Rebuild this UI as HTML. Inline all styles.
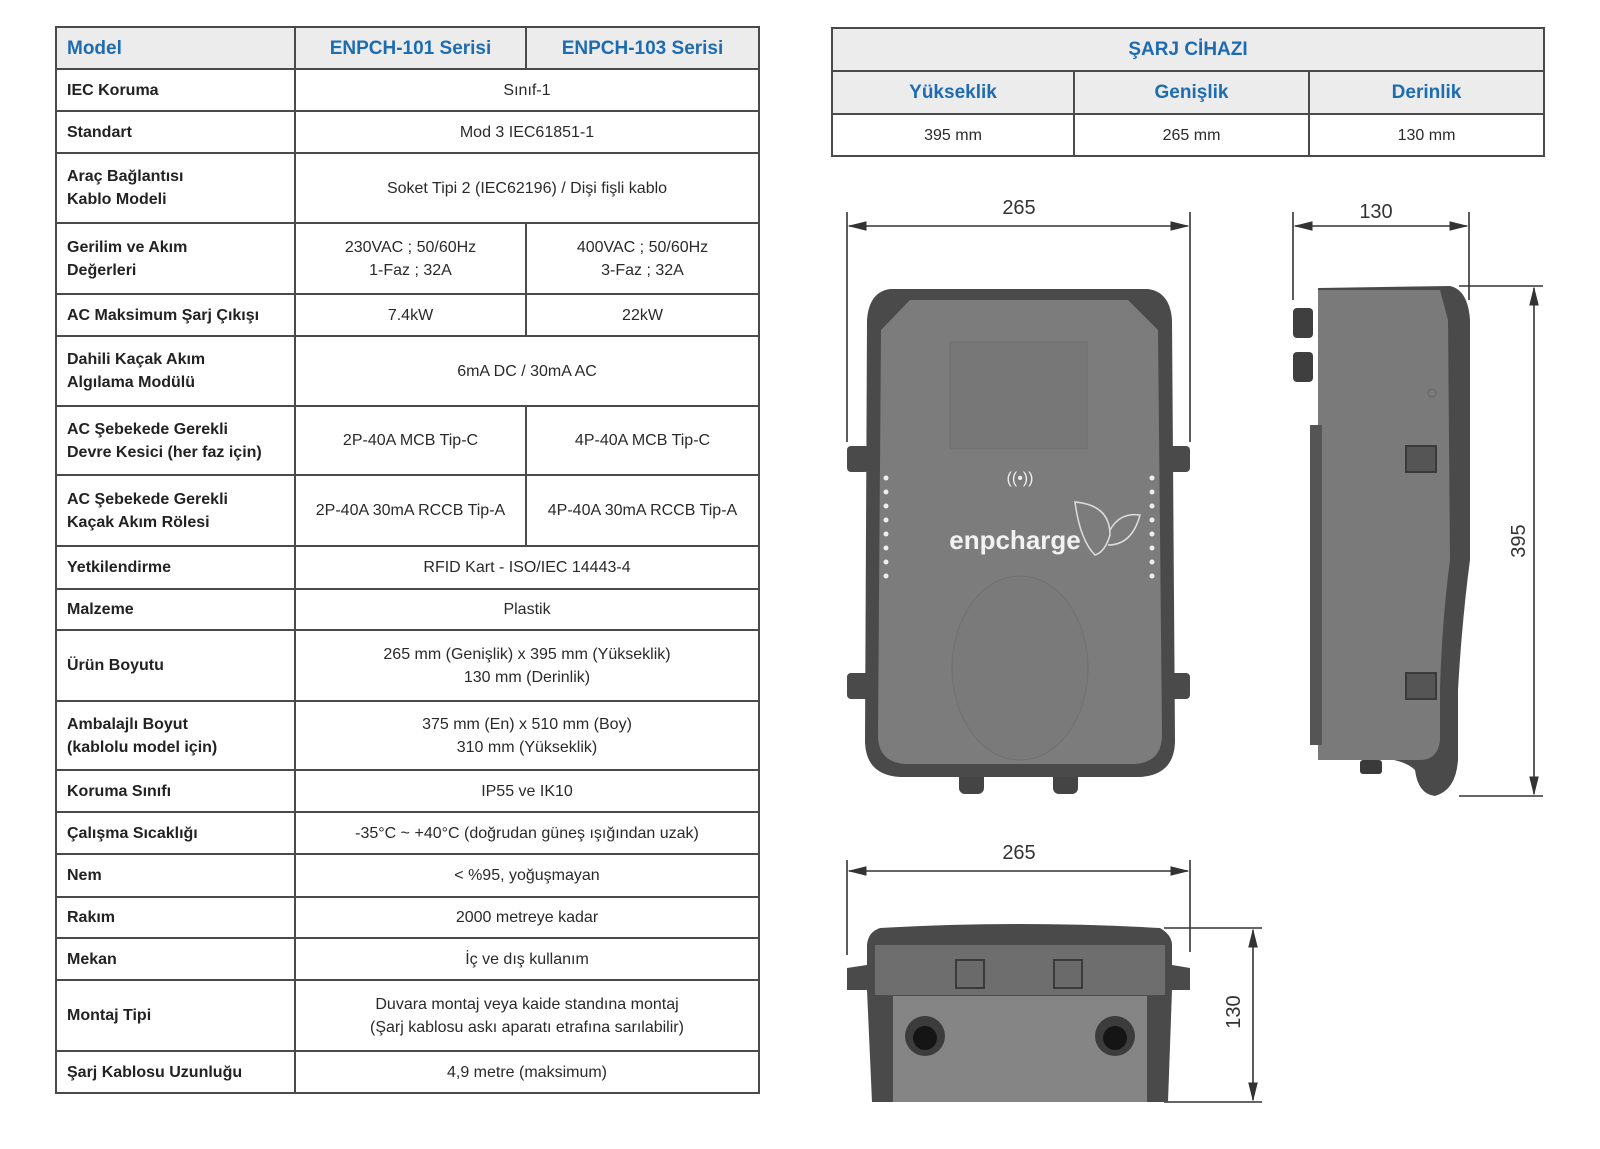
<!DOCTYPE html>
<html><head><meta charset="utf-8"><style>
body{margin:0;width:1600px;height:1149px;background:#fff;position:relative;overflow:hidden;font-family:"Liberation Sans",sans-serif;color:#2a2a2a}
table{border-collapse:collapse;position:absolute;table-layout:fixed}
td{border:2px solid #4a4a4a;padding:0;font-size:16px;text-align:center;line-height:23px}
td.l{text-align:left;padding-left:10px;font-weight:bold;color:#222}
.h td{background:#ececec;color:#1d6cb2;font-weight:bold;font-size:19px}
#t1{left:55px;top:26px;width:703px}
#t2{left:831px;top:27px;width:712px}
</style></head><body>
<table id="t1">
<colgroup><col style="width:239px"><col style="width:231px"><col style="width:233px"></colgroup>
<tr class="h" style="height:42px"><td class="l" style="color:#1d6cb2;font-size:19px">Model</td><td>ENPCH-101 Serisi</td><td>ENPCH-103 Serisi</td></tr>
<tr style="height:42px"><td class="l">IEC Koruma</td><td colspan="2">Sınıf-1</td></tr>
<tr style="height:42px"><td class="l">Standart</td><td colspan="2">Mod 3 IEC61851-1</td></tr>
<tr style="height:70px"><td class="l">Araç Bağlantısı<br>Kablo Modeli</td><td colspan="2">Soket Tipi 2 (IEC62196) / Dişi fişli kablo</td></tr>
<tr style="height:71px"><td class="l">Gerilim ve Akım<br>Değerleri</td><td>230VAC ; 50/60Hz<br>1-Faz ; 32A</td><td>400VAC ; 50/60Hz<br>3-Faz ; 32A</td></tr>
<tr style="height:42px"><td class="l">AC Maksimum Şarj Çıkışı</td><td>7.4kW</td><td>22kW</td></tr>
<tr style="height:70px"><td class="l">Dahili Kaçak Akım<br>Algılama Modülü</td><td colspan="2">6mA DC / 30mA AC</td></tr>
<tr style="height:69px"><td class="l">AC Şebekede Gerekli<br>Devre Kesici (her faz için)</td><td>2P-40A MCB Tip-C</td><td>4P-40A MCB Tip-C</td></tr>
<tr style="height:71px"><td class="l">AC Şebekede Gerekli<br>Kaçak Akım Rölesi</td><td>2P-40A 30mA RCCB Tip-A</td><td>4P-40A 30mA RCCB Tip-A</td></tr>
<tr style="height:43px"><td class="l">Yetkilendirme</td><td colspan="2">RFID Kart - ISO/IEC 14443-4</td></tr>
<tr style="height:41px"><td class="l">Malzeme</td><td colspan="2">Plastik</td></tr>
<tr style="height:71px"><td class="l">Ürün Boyutu</td><td colspan="2">265 mm (Genişlik) x 395 mm (Yükseklik)<br>130 mm (Derinlik)</td></tr>
<tr style="height:69px"><td class="l">Ambalajlı Boyut<br>(kablolu model için)</td><td colspan="2">375 mm (En) x 510 mm (Boy)<br>310 mm (Yükseklik)</td></tr>
<tr style="height:42px"><td class="l">Koruma Sınıfı</td><td colspan="2">IP55 ve IK10</td></tr>
<tr style="height:42px"><td class="l">Çalışma Sıcaklığı</td><td colspan="2">-35°C ~ +40°C (doğrudan güneş ışığından uzak)</td></tr>
<tr style="height:43px"><td class="l">Nem</td><td colspan="2">&lt; %95, yoğuşmayan</td></tr>
<tr style="height:41px"><td class="l">Rakım</td><td colspan="2">2000 metreye kadar</td></tr>
<tr style="height:42px"><td class="l">Mekan</td><td colspan="2">İç ve dış kullanım</td></tr>
<tr style="height:71px"><td class="l">Montaj Tipi</td><td colspan="2">Duvara montaj veya kaide standına montaj<br>(Şarj kablosu askı aparatı etrafına sarılabilir)</td></tr>
<tr style="height:42px"><td class="l">Şarj Kablosu Uzunluğu</td><td colspan="2">4,9 metre (maksimum)</td></tr>
</table>
<table id="t2">
<colgroup><col style="width:242px"><col style="width:235px"><col style="width:235px"></colgroup>
<tr class="h" style="height:43px"><td colspan="3">ŞARJ CİHAZI</td></tr>
<tr class="h" style="height:43px"><td>Yükseklik</td><td>Genişlik</td><td>Derinlik</td></tr>
<tr style="height:42px"><td>395 mm</td><td>265 mm</td><td>130 mm</td></tr>
</table>
<svg width="1600" height="1149" style="position:absolute;left:0;top:0" font-family="Liberation Sans,sans-serif">
<defs><marker id="a" markerWidth="12" markerHeight="8" refX="11" refY="4" orient="auto-start-reverse"><path d="M0,1 L12,4 L0,7z" fill="#333"/></marker></defs>
<g stroke="#333" stroke-width="1.6" fill="none">
<line x1="847" y1="212" x2="847" y2="442"/><line x1="1190" y1="212" x2="1190" y2="442"/>
<line x1="849" y1="226" x2="1188" y2="226" marker-start="url(#a)" marker-end="url(#a)"/>
<line x1="1293" y1="212" x2="1293" y2="300"/><line x1="1469" y1="212" x2="1469" y2="300"/>
<line x1="1295" y1="226" x2="1467" y2="226" marker-start="url(#a)" marker-end="url(#a)"/>
<line x1="1459" y1="286" x2="1543" y2="286"/><line x1="1459" y1="796" x2="1543" y2="796"/>
<line x1="1534" y1="288" x2="1534" y2="794" marker-start="url(#a)" marker-end="url(#a)"/>
<line x1="847" y1="860" x2="847" y2="955"/><line x1="1190" y1="860" x2="1190" y2="952"/>
<line x1="849" y1="871" x2="1188" y2="871" marker-start="url(#a)" marker-end="url(#a)"/>
<line x1="1164" y1="928" x2="1262" y2="928"/><line x1="1164" y1="1102" x2="1262" y2="1102"/>
<line x1="1253" y1="930" x2="1253" y2="1100" marker-start="url(#a)" marker-end="url(#a)"/>
</g>
<g fill="#333" font-size="20" text-anchor="middle">
<text x="1019" y="214">265</text><text x="1376" y="218">130</text>
<text x="1019" y="859">265</text>
<text transform="translate(1525,541) rotate(-90)">395</text>
<text transform="translate(1240,1012) rotate(-90)">130</text>
</g>
<!-- front -->
<rect x="847" y="446" width="22" height="26" rx="4" fill="#4a4a4a"/><rect x="1169" y="446" width="21" height="26" rx="4" fill="#4a4a4a"/>
<rect x="847" y="673" width="22" height="26" rx="4" fill="#4a4a4a"/><rect x="1169" y="673" width="21" height="26" rx="4" fill="#4a4a4a"/>
<rect x="959" y="770" width="25" height="24" rx="6" fill="#444"/><rect x="1053" y="770" width="25" height="24" rx="6" fill="#444"/>
<path d="M890,289 L1148,289 Q1170,292 1172,320 L1175,740 Q1175,775 1140,777 L900,777 Q865,775 865,740 L867,320 Q869,292 890,289z" fill="#4a4a4a"/>
<path d="M910,300 L1128,300 L1158,330 L1162,735 Q1162,762 1135,764 L905,764 Q878,762 878,735 L881,330z" fill="#7c7c7c"/>
<rect x="950" y="342" width="137" height="107" fill="#777" stroke="#6f6f6f"/>
<ellipse cx="1020" cy="668" rx="68" ry="92" fill="#7a7a7a" stroke="#707070"/>
<g fill="#eee"><circle cx="886" cy="478" r="2.5"/><circle cx="886" cy="492" r="2.5"/><circle cx="886" cy="506" r="2.5"/><circle cx="886" cy="520" r="2.5"/><circle cx="886" cy="534" r="2.5"/><circle cx="886" cy="548" r="2.5"/><circle cx="886" cy="562" r="2.5"/><circle cx="886" cy="576" r="2.5"/>
<circle cx="1152" cy="478" r="2.5"/><circle cx="1152" cy="492" r="2.5"/><circle cx="1152" cy="506" r="2.5"/><circle cx="1152" cy="520" r="2.5"/><circle cx="1152" cy="534" r="2.5"/><circle cx="1152" cy="548" r="2.5"/><circle cx="1152" cy="562" r="2.5"/><circle cx="1152" cy="576" r="2.5"/></g>
<text x="1020" y="483" fill="#eee" font-size="16" text-anchor="middle">((•))</text>
<text x="1015" y="549" fill="#f2f2f2" font-size="26" text-anchor="middle" font-weight="bold">enpcharge</text>
<path d="M1075,502 Q1110,505 1110,535 Q1105,552 1095,555 Q1080,540 1075,502z M1110,530 Q1120,512 1140,515 Q1132,545 1108,545" fill="none" stroke="#ddd" stroke-width="1.5"/>
<!-- side -->
<rect x="1293" y="308" width="20" height="30" rx="4" fill="#3f3f3f"/><rect x="1293" y="352" width="20" height="30" rx="4" fill="#3f3f3f"/>
<path d="M1318,288 L1450,286 Q1468,290 1470,320 L1470,560 Q1462,620 1458,690 L1458,760 Q1456,790 1435,796 Q1418,794 1415,770 Q1405,760 1380,758 L1318,758z" fill="#4a4a4a"/>
<path d="M1318,290 L1440,290 L1448,320 L1450,560 Q1442,620 1440,690 L1440,740 Q1438,760 1420,760 L1318,760z" fill="#7a7a7a"/>
<rect x="1310" y="425" width="12" height="320" fill="#555"/>
<rect x="1406" y="446" width="30" height="26" fill="#555" stroke="#3a3a3a" stroke-width="2"/>
<rect x="1406" y="673" width="30" height="26" fill="#555" stroke="#3a3a3a" stroke-width="2"/>
<circle cx="1432" cy="393" r="4" fill="none" stroke="#666"/>
<rect x="1360" y="760" width="22" height="14" rx="3" fill="#3a3a3a"/>
<!-- bottom -->
<path d="M880,928 Q1020,920 1160,928 Q1172,935 1172,945 L1172,965 L1190,968 L1190,990 L1172,990 L1168,1102 L872,1102 L867,990 L847,990 L847,968 L867,965 L867,945 Q868,932 880,928z" fill="#4a4a4a"/>
<path d="M875,945 L1165,945 L1165,995 L875,995z" fill="#6e6e6e"/>
<rect x="893" y="996" width="254" height="106" fill="#858585"/>
<rect x="956" y="960" width="28" height="28" fill="#6a6a6a" stroke="#3a3a3a" stroke-width="2"/>
<rect x="1054" y="960" width="28" height="28" fill="#6a6a6a" stroke="#3a3a3a" stroke-width="2"/>
<circle cx="925" cy="1036" r="20" fill="#3c3c3c"/><circle cx="925" cy="1038" r="12" fill="#151515"/>
<circle cx="1115" cy="1036" r="20" fill="#3c3c3c"/><circle cx="1115" cy="1038" r="12" fill="#151515"/>
</svg>
</body></html>
